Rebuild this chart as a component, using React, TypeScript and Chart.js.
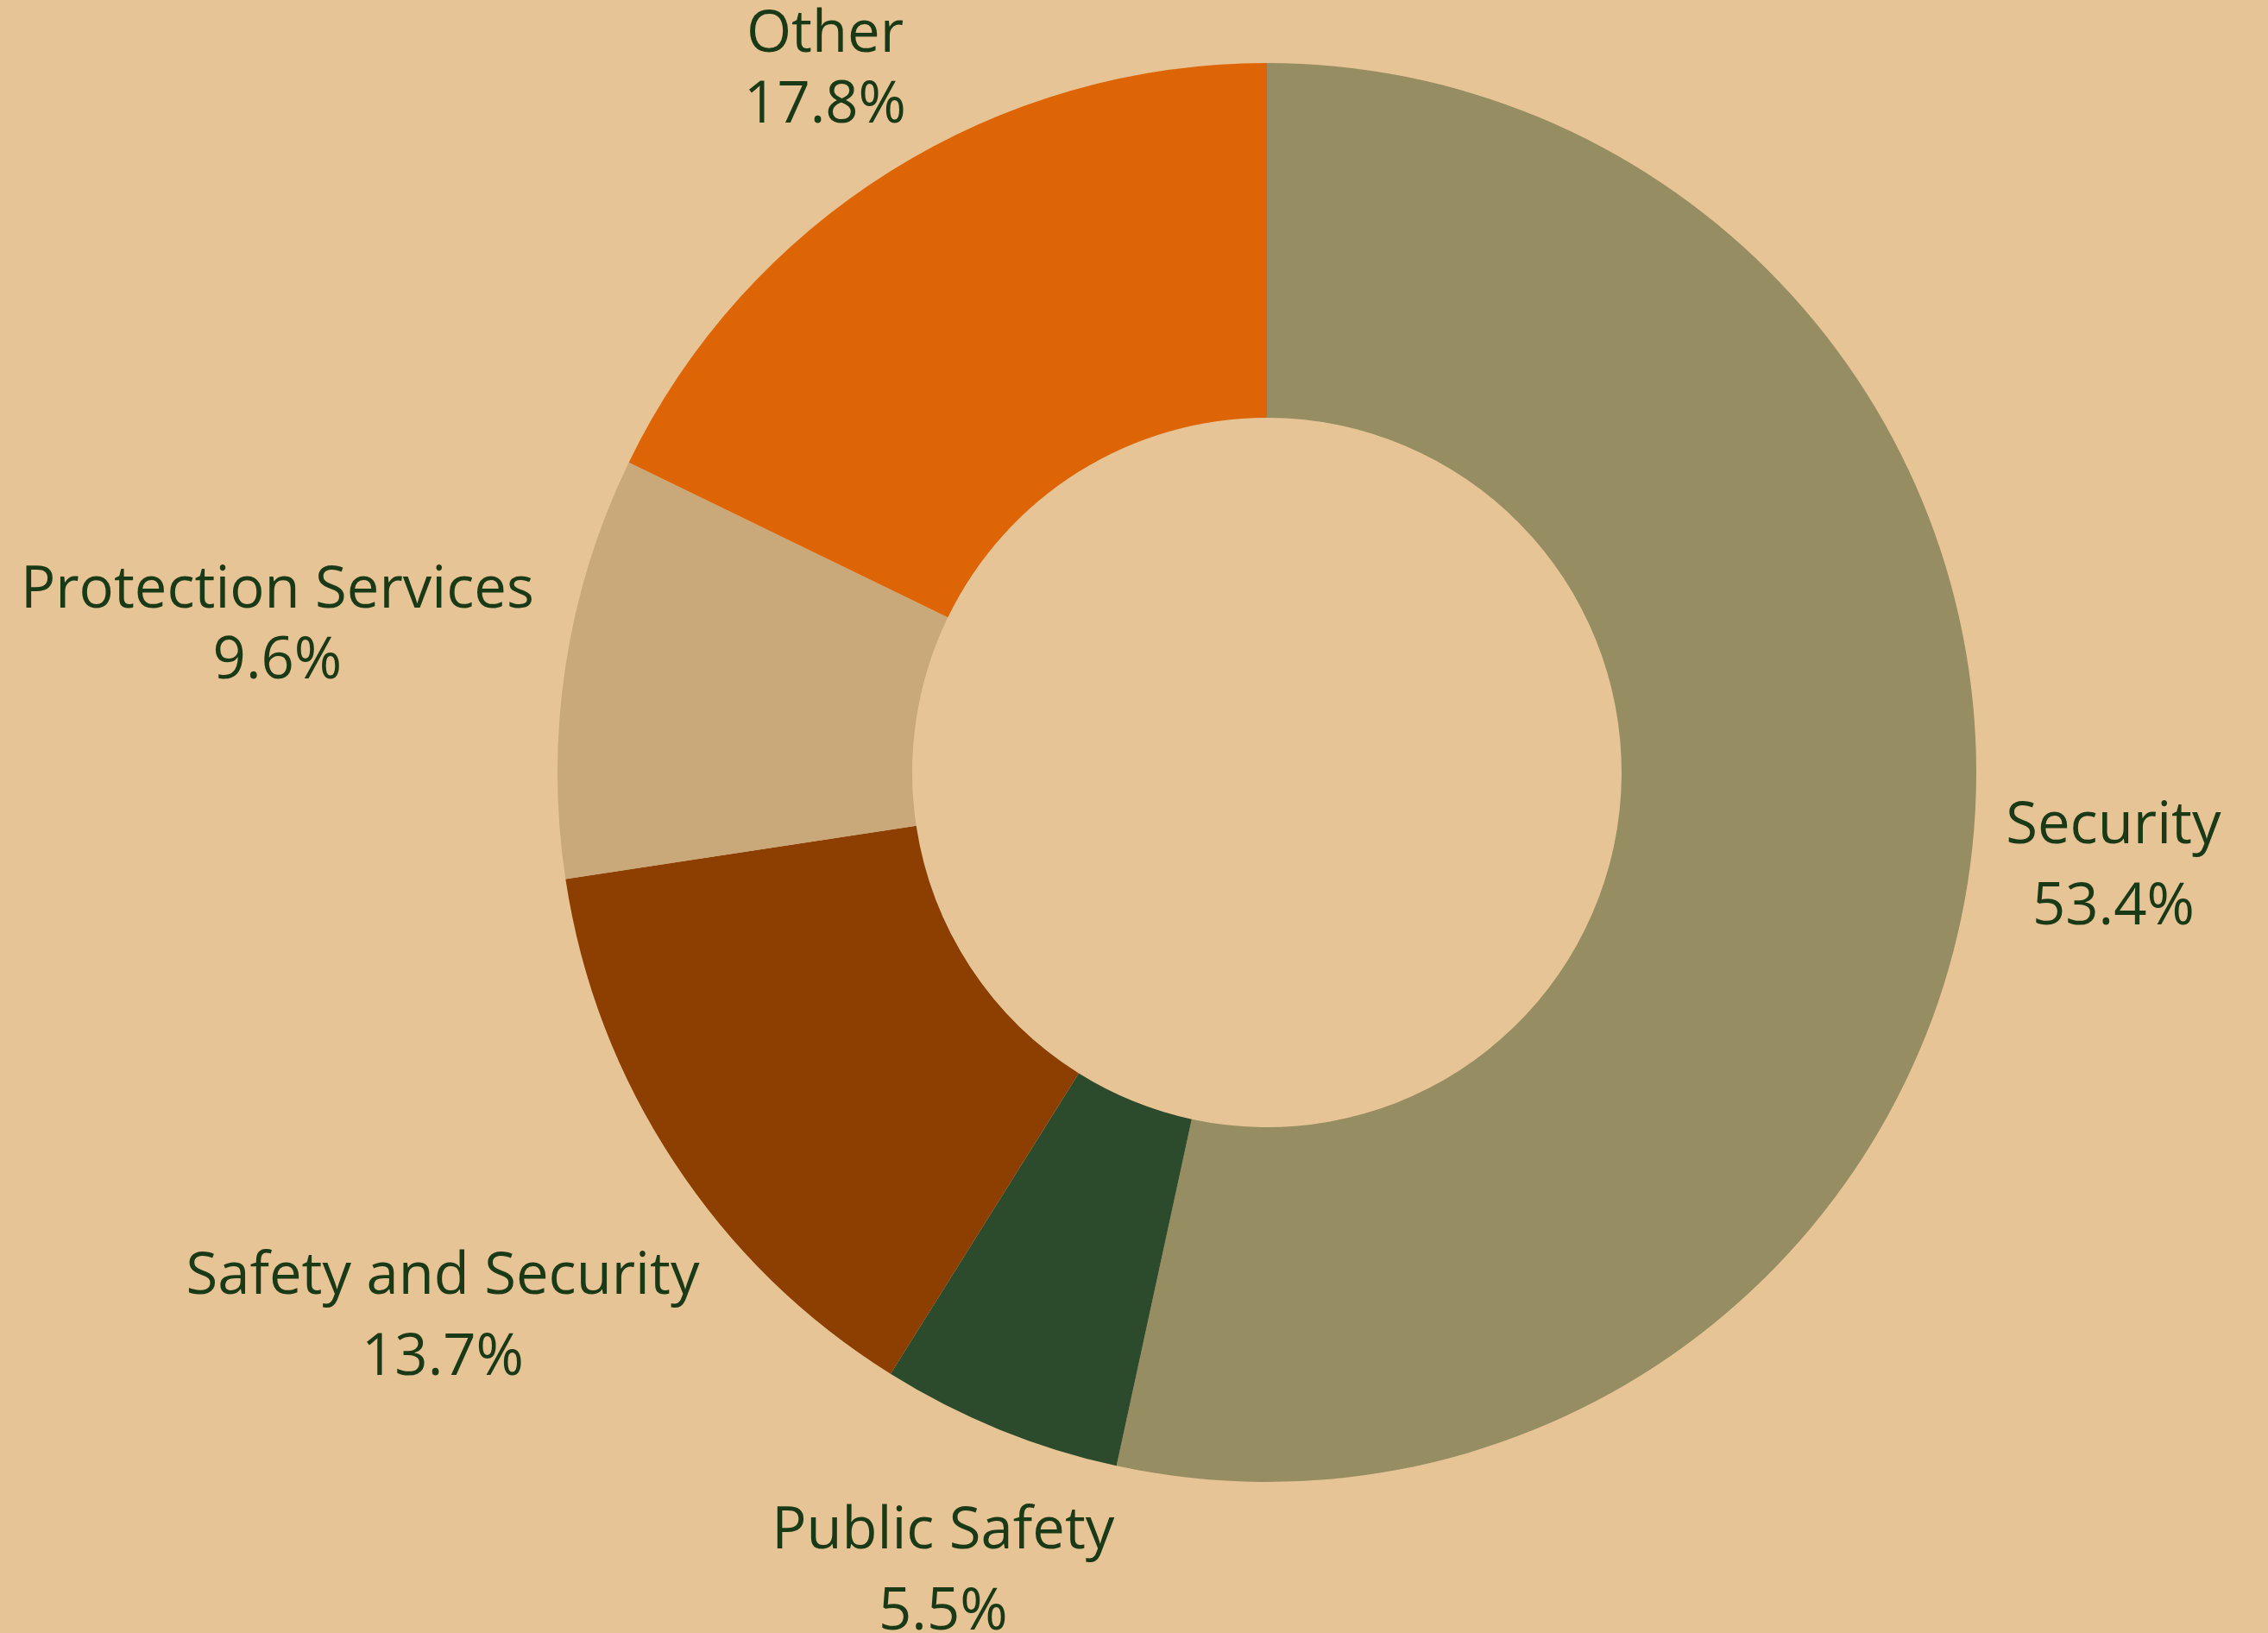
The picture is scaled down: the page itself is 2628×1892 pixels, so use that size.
import React, { useEffect, useRef } from "react";
import { Chart, registerables } from "chart.js";

Chart.register(...registerables);

const categories = ["Security", "Public Safety", "Safety and Security", "Protection Services", "Other"];
const shares = [53.4, 5.5, 13.7, 9.6, 17.8];
const sliceColors = ["#968D63", "#2C4B2D", "#8C3F00", "#C9A87A", "#DE6505"];

const BG = "#E6C495";
const TEXT = "#1A3A17";
const FONT_SIZE = 67;

const labelPlugin = {
  id: "outsideLabels",
  afterDatasetsDraw(chart: any) {
    const ctx = chart.ctx;
    const meta = chart.getDatasetMeta(0);
    const data = chart.data.datasets[0].data as number[];
    const total = data.reduce((a, b) => a + b, 0);
    ctx.save();
    ctx.font = `${FONT_SIZE}px "Open Sans"`;
    ctx.fillStyle = TEXT;
    ctx.textAlign = "center";
    ctx.textBaseline = "alphabetic";
    meta.data.forEach((arc: any, i: number) => {
      const p = arc.getProps(["x", "y", "startAngle", "endAngle", "outerRadius"], true);
      const mid = (p.startAngle + p.endAngle) / 2;
      const dx = Math.cos(mid);
      const dy = Math.sin(mid);
      const l1 = String(chart.data.labels[i]);
      const l2 = ((data[i] / total) * 100).toFixed(1) + "%";
      const w = Math.max(ctx.measureText(l1).width, ctx.measureText(l2).width);
      const halfH = 71;
      const r = p.outerRadius + 33 + Math.abs(dx) * w / 2 + Math.abs(dy) * halfH;
      const cx = p.x + dx * r;
      const cy = p.y + dy * r;
      const gap = dy < 0 ? 82 : 94;
      const b1 = cy - 23 + (94 - gap) / 2;
      ctx.fillText(l1, cx, b1);
      ctx.fillText(l2, cx, b1 + gap);
    });
    ctx.restore();
  },
};

export default function App() {
  const ref = useRef<HTMLCanvasElement>(null);
  useEffect(() => {
    if (!ref.current) return;
    const chart = new Chart(ref.current, {
      type: "doughnut",
      data: {
        labels: categories,
        datasets: [
          {
            data: shares,
            backgroundColor: sliceColors,
            borderWidth: 0,
          },
        ],
      },
      options: {
        animation: false,
        responsive: false,
        cutout: "50%",
        layout: { padding: { left: 646, right: 338, top: 73, bottom: 175 } },
        plugins: { legend: { display: false }, tooltip: { enabled: false } },
      },
      plugins: [labelPlugin],
    });
    return () => chart.destroy();
  }, []);
  return (
    <div style={{ position: "fixed", left: 0, top: 0, width: 2628, height: 1892, background: BG }}>
      <canvas ref={ref} width={2628} height={1892} style={{ display: "block", width: 2628, height: 1892 }} />
    </div>
  );
}
